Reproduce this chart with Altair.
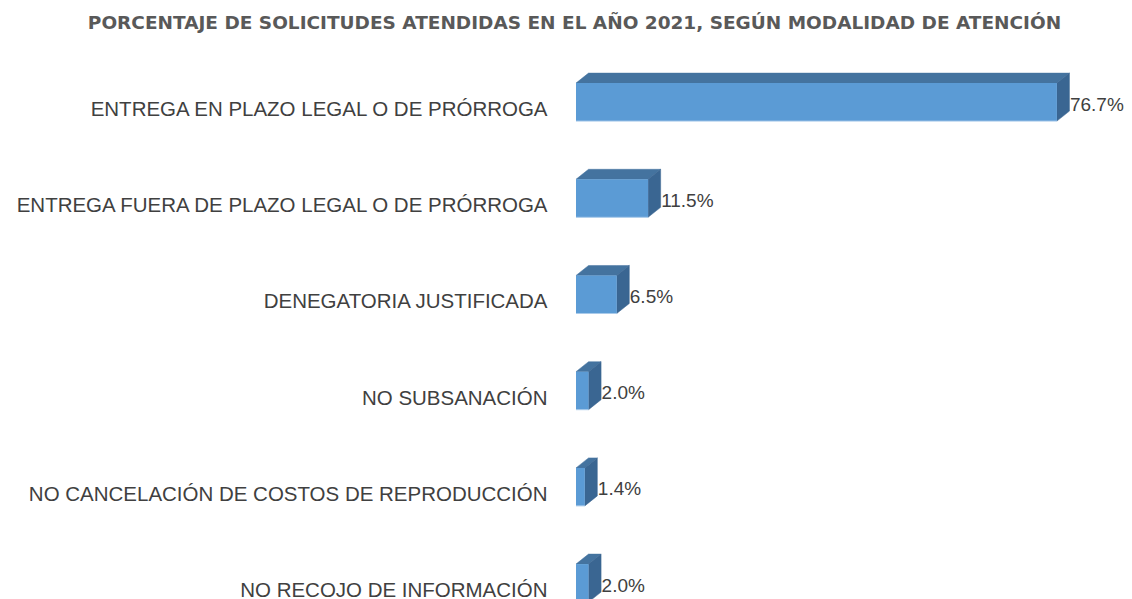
import json
import altair as alt
import pandas as pd

# ---------------- data ----------------
categories = [
    "ENTREGA EN PLAZO LEGAL O DE PRÓRROGA",
    "ENTREGA FUERA DE PLAZO LEGAL O DE PRÓRROGA",
    "DENEGATORIA JUSTIFICADA",
    "NO SUBSANACIÓN",
    "NO CANCELACIÓN DE COSTOS DE REPRODUCCIÓN",
    "NO RECOJO DE INFORMACIÓN",
]
values = [76.7, 11.5, 6.5, 2.0, 1.4, 2.0]
value_labels = ["76.7%", "11.5%", "6.5%", "2.0%", "1.4%", "2.0%"]

title_text = "PORCENTAJE DE SOLICITUDES ATENDIDAS EN EL AÑO 2021, SEGÚN MODALIDAD DE ATENCIÓN"

# ---------------- 3-D bar geometry (style constants, in scale units) ----------------
DX = 2.0      # depth in x units
DY = 0.104    # depth in y (row) units
HALF = 0.1975 # half height of the front face in row units

PX_PER_UNIT = 6.27
ROW_PX = 96.2
X_MAX = 87
PAD_LEFT = 568

front_rows, top_rows, side_rows = [], [], []
for i, (c, v, lab) in enumerate(zip(categories, values, value_labels)):
    top = i - HALF
    bot = i + HALF
    front_rows.append({"idx": i, "cat": c, "x0": 0.0, "x1": v, "y0": top, "y1": bot,
                       "xl": v + DX, "lab": lab})
    xs = sorted({0.0, min(v, DX), max(v, DX), v + DX})
    for x in xs:
        lower = top - DY * max(0.0, x - v) / DX
        upper = top - DY * min(x / DX, 1.0)
        top_rows.append({"idx": i, "x": x, "ya": lower, "yb": upper})
    for x in [v, v + DX]:
        side_rows.append({"idx": i, "x": x,
                          "ya": bot - DY * (x - v) / DX,
                          "yb": top - DY * (x - v) / DX})

front_df = pd.DataFrame(front_rows)
top_df = pd.DataFrame(top_rows)
side_df = pd.DataFrame(side_rows)

FRONT = "#5B9BD5"
TOP = "#44739F"
SIDE = "#3A6692"

label_expr = json.dumps(categories, ensure_ascii=False) + "[datum.value]"

xscale = alt.Scale(domain=[0, X_MAX], nice=False, zero=False)
yscale = alt.Scale(domain=[-0.5, 5.5], reverse=True, nice=False, zero=False)
yaxis = alt.Axis(
    values=list(range(len(categories))),
    labelExpr=label_expr,
    title=None,
    domain=False,
    ticks=False,
    grid=False,
    labelPadding=29,
    labelOffset=7.5,
    labelFlush=False,
    labelFont="Liberation Sans",
    labelFontSize=20.5,
    labelColor="#404040",
    labelLimit=600,
)

front = alt.Chart(front_df).mark_rect(color=FRONT).encode(
    x=alt.X("x0:Q", scale=xscale, axis=None),
    x2="x1:Q",
    y=alt.Y("y0:Q", scale=yscale, axis=yaxis),
    y2="y1:Q",
)

edge = alt.Chart(front_df).mark_rule(color="#A9CAEA", strokeWidth=1).encode(
    x=alt.X("x0:Q", scale=xscale, axis=None),
    x2="x1:Q",
    y=alt.Y("y1:Q", scale=yscale, axis=yaxis),
)

topface = alt.Chart(top_df).mark_area(color=TOP, orient="vertical", stroke=TOP, strokeWidth=0.5).encode(
    x=alt.X("x:Q", scale=xscale, axis=None),
    y=alt.Y("ya:Q", scale=yscale, axis=yaxis),
    y2="yb:Q",
    detail="idx:N",
)

sideface = alt.Chart(side_df).mark_area(color=SIDE, orient="vertical", stroke=SIDE, strokeWidth=0.5).encode(
    x=alt.X("x:Q", scale=xscale, axis=None),
    y=alt.Y("ya:Q", scale=yscale, axis=yaxis),
    y2="yb:Q",
    detail="idx:N",
)

labels = alt.Chart(front_df).mark_text(
    align="left", baseline="middle", dx=0.5, dy=2.5,
    font="Liberation Sans", fontSize=19, color="#404040",
).encode(
    x=alt.X("xl:Q", scale=xscale, axis=None),
    y=alt.Y("idx:Q", scale=yscale, axis=yaxis),
    text="lab:N",
)

plot_w = X_MAX * PX_PER_UNIT
plot_h = 6 * ROW_PX
pad_right = max(0.0, 1116 - PAD_LEFT - plot_w)

chart = alt.layer(topface, sideface, front, edge, labels).properties(
    width=plot_w,
    height=plot_h,
    autosize=alt.AutoSizeParams(type="none"),
    padding={"left": PAD_LEFT, "top": 46, "right": pad_right, "bottom": 0},
    title=alt.TitleParams(
        text=title_text,
        font="DejaVu Sans",
        fontSize=18.5,
        fontWeight="bold",
        color="#595959",
        anchor="middle",
        frame="group",
        baseline="alphabetic",
        offset=6,
        dx=574.5 - (PAD_LEFT + 8 + plot_w / 2),
    ),
).configure_view(stroke=None)

chart.save("out.html", embed_options={"renderer": "svg", "actions": False})
